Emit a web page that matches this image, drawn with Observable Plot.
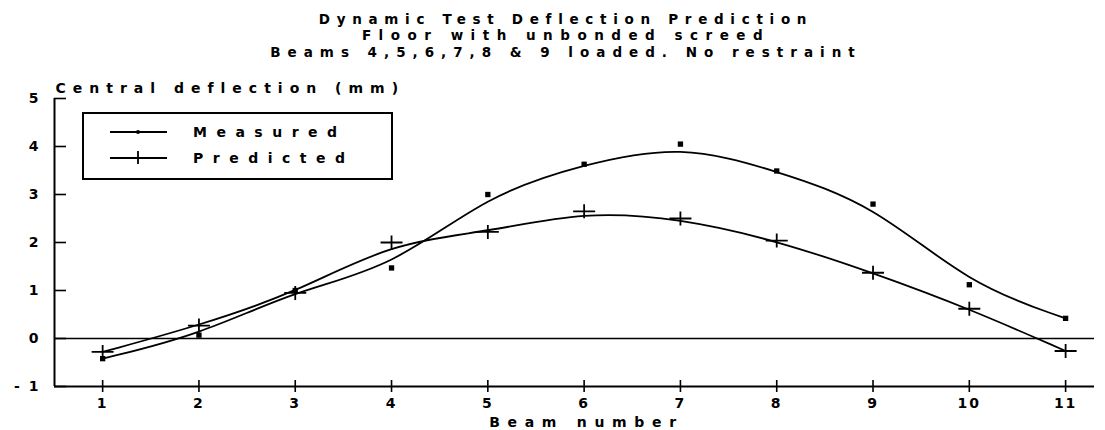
<!DOCTYPE html>
<html><head><meta charset="utf-8">
<script src="https://cdn.jsdelivr.net/npm/d3@7"></script>
<script src="https://cdn.jsdelivr.net/npm/@observablehq/plot@0.6"></script>
<style>
body{margin:0;background:#fff;}
#wrap{position:relative;width:1105px;height:430px;font-family:"DejaVu Sans",sans-serif;font-weight:bold;color:#000;}
#legend{position:absolute;left:82px;top:112px;width:307px;height:64px;border:2px solid #000;background:#fff;}
#legend .row{position:absolute;left:0;height:20px;display:flex;align-items:center;}
#legend span{position:absolute;left:109px;font-size:14px;letter-spacing:9.5px;white-space:nowrap;}
</style></head><body><div id="wrap"></div>
<script>
const beams = [1, 2, 3, 4, 5, 6, 7, 8, 9, 10, 11];
const measured = [-0.42, 0.07, 1.0, 1.47, 3.0, 3.63, 4.05, 3.49, 2.8, 1.12, 0.42];
const predicted = [-0.28, 0.27, 0.95, 2.0, 2.22, 2.65, 2.5, 2.04, 1.37, 0.62, -0.26];
const xTicks = [1, 2, 3, 4, 5, 6, 7, 8, 9, 10, 11];
const yTicks = [-1, 0, 1, 2, 3, 4, 5];
const yTickLabels = ["- 1", "0", "1", "2", "3", "4", "5"];
const titleLines = ["Dynamic Test Deflection Prediction", "Floor with unbonded screed", "Beams 4,5,6,7,8 & 9 loaded. No restraint"];
const yLabel = "Central deflection (mm)";
const xLabel = "Beam number";
const seriesNames = ["Measured", "Predicted"];
const xDomain = [0.5, 11.3];
const yDomain = [-1, 5];

const rows = beams.map((b, i) => ({beam: b, measured: measured[i], predicted: predicted[i]}));

const widePlus = {draw(ctx) { ctx.moveTo(-11, 0); ctx.lineTo(11, 0); ctx.moveTo(0, -7); ctx.lineTo(0, 7); }};

const chart = Plot.plot({
  width: 1105, height: 430,
  marginLeft: 54, marginRight: 11, marginTop: 98, marginBottom: 44,
  x: {domain: xDomain},
  y: {domain: yDomain},
  style: {fontFamily: '"DejaVu Sans", sans-serif', fontSize: "14px", fontWeight: "bold", color: "#000", background: "#fff", overflow: "visible"},
  marks: [
    Plot.ruleY([0], {strokeWidth: 1.6}),
    Plot.ruleY([yDomain[0]], {strokeWidth: 2}),
    Plot.ruleX([xDomain[0]], {strokeWidth: 2}),
    Plot.axisX({ticks: xTicks, tickSize: 12, dy: -6, tickFormat: () => "", label: null, strokeWidth: 1.6}),
    Plot.axisX({ticks: xTicks, tickSize: 0, tickPadding: 12, label: null, fontSize: 14}),
    Plot.axisY({ticks: yTicks, tickSize: 12, dx: 12, tickFormat: () => "", label: null, strokeWidth: 1.6}),
    Plot.axisY({ticks: yTicks, tickSize: 0, tickPadding: 14, tickFormat: d => yTickLabels[yTicks.indexOf(d)], label: null, fontSize: 14}),
    Plot.line(rows, {x: "beam", y: "measured", curve: "basis", strokeWidth: 1.8}),
    Plot.line(rows, {x: "beam", y: "predicted", curve: "basis", strokeWidth: 1.8}),
    Plot.dot(rows, {x: "beam", y: "measured", symbol: "square", r: 3, fill: "black"}),
    Plot.dot(rows, {x: "beam", y: "predicted", symbol: widePlus, stroke: "black", strokeWidth: 1.8}),
    Plot.text([titleLines.join("\n")], {frameAnchor: "top", lineAnchor: "middle", dx: -8.5, dy: -63.5, lineHeight: 1.22, fontSize: 13.5}),
    Plot.text([yLabel], {frameAnchor: "top-left", textAnchor: "start", lineAnchor: "middle", dx: 1, dy: -10, fontSize: 14}),
    Plot.text([xLabel], {frameAnchor: "bottom", lineAnchor: "middle", dx: 12, dy: 36, fontSize: 14})
  ]
});

const wrap = document.getElementById("wrap");
wrap.appendChild(chart);

// letter spacing to imitate the wide plotter lettering
const titleSpacing = ["6.7px", "7.5px", "7px"];
function spaceOut(el, ls) { el.setAttribute("letter-spacing", ls); el.style.letterSpacing = ls; }
chart.querySelectorAll("text").forEach(t => {
  const s = t.textContent;
  if (s.includes(titleLines[0])) {
    t.querySelectorAll("tspan").forEach((ts, i) => spaceOut(ts, titleSpacing[i] || "7px"));
  } else if (s === yLabel) spaceOut(t, "7px");
  else if (s === xLabel) spaceOut(t, "7.7px");
  else if (/^[-\s\d]+$/.test(s)) spaceOut(t, "2px");
});

const legend = document.createElement("div");
legend.id = "legend";
const sampleMarks = [
  '<circle cx="28" cy="10" r="2" fill="black"/>',
  '<line x1="28" x2="28" y1="3" y2="16" stroke="black" stroke-width="1.8"/>'
];
seriesNames.forEach((name, i) => {
  const row = document.createElement("div");
  row.className = "row";
  row.style.top = (i === 0 ? 8 : 34) + "px";
  row.style.width = "300px";
  row.innerHTML = `<svg width="100" height="20" style="position:absolute;left:0;top:0"><g transform="translate(26,0)"><line x1="0" x2="57" y1="10" y2="10" stroke="black" stroke-width="1.8"/>${sampleMarks[i]}</g></svg><span>${name}</span>`;
  legend.appendChild(row);
});
wrap.appendChild(legend);
</script></body></html>
